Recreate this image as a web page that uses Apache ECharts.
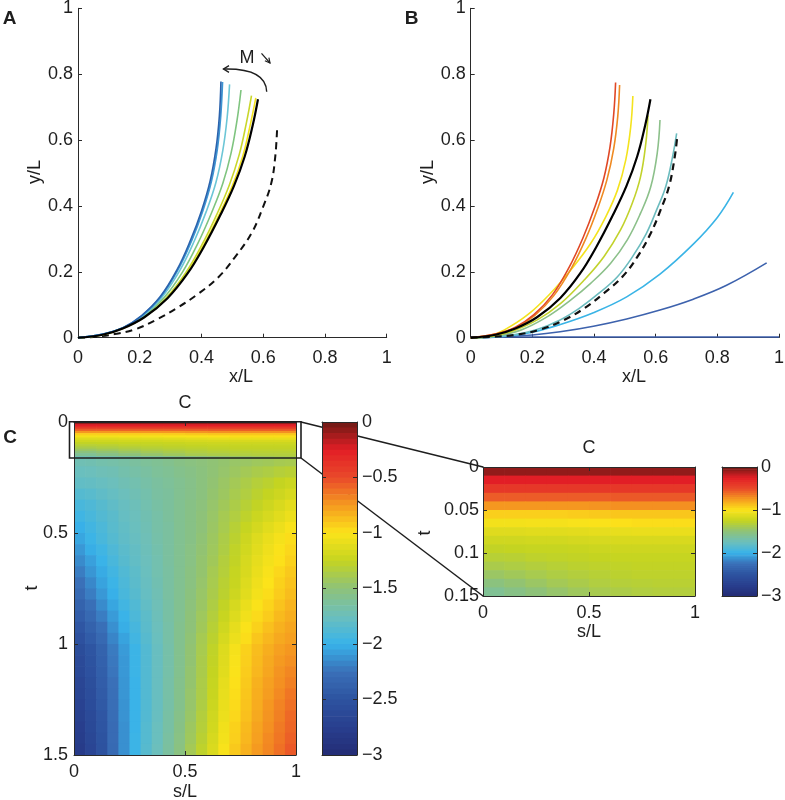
<!DOCTYPE html>
<html><head><meta charset="utf-8">
<script src="https://cdn.jsdelivr.net/npm/echarts@6/dist/echarts.min.js"></script>
<style>html,body{margin:0;padding:0;background:#fff}#c{width:785px;height:800px}</style>
</head><body><div id="c"></div>
<script>
// ---------- Panel A curves (x/L, y/L) ----------
const aDarkBlue = [[0,0],[0.082,0.011],[0.147,0.031],[0.206,0.067],[0.266,0.124],[0.32,0.205],[0.364,0.295],[0.4,0.385],[0.428,0.476],[0.447,0.574],[0.458,0.674],[0.463,0.778]];
const aBlue = [[0,0],[0.082,0.011],[0.148,0.031],[0.208,0.067],[0.268,0.124],[0.323,0.205],[0.368,0.295],[0.404,0.385],[0.432,0.475],[0.451,0.572],[0.462,0.672],[0.468,0.776]];
const aCyan = [[0,0],[0.082,0.011],[0.147,0.030],[0.209,0.066],[0.272,0.123],[0.329,0.203],[0.376,0.292],[0.415,0.382],[0.447,0.472],[0.469,0.568],[0.483,0.667],[0.491,0.769]];
const aGreen = [[0,0],[0.081,0.010],[0.147,0.030],[0.212,0.065],[0.279,0.122],[0.339,0.200],[0.389,0.288],[0.432,0.378],[0.469,0.468],[0.496,0.561],[0.515,0.659],[0.528,0.752]];
const aYellowGreen = [[0,0],[0.080,0.009],[0.146,0.029],[0.214,0.063],[0.286,0.121],[0.349,0.197],[0.402,0.283],[0.449,0.373],[0.490,0.463],[0.522,0.555],[0.545,0.650],[0.562,0.735]];
const aYellow = [[0,0],[0.080,0.009],[0.145,0.028],[0.215,0.062],[0.289,0.120],[0.353,0.196],[0.407,0.281],[0.456,0.371],[0.500,0.461],[0.534,0.552],[0.558,0.646],[0.576,0.728]];
const blackRef = [[0,0],[0.08,0.009],[0.145,0.028],[0.215,0.062],[0.29,0.12],[0.355,0.195],[0.41,0.28],[0.46,0.37],[0.505,0.46],[0.54,0.55],[0.566,0.645],[0.583,0.724]];
const aDashed = [[0,0],[0.06,0.003],[0.119,0.011],[0.184,0.025],[0.259,0.057],[0.324,0.092],[0.389,0.133],[0.454,0.183],[0.508,0.244],[0.562,0.317],[0.599,0.396],[0.626,0.469],[0.639,0.55],[0.645,0.634]];

// ---------- Panel B curves ----------
const bRed = [[0,0],[0.08,0.011],[0.145,0.032],[0.205,0.07],[0.265,0.13],[0.32,0.215],[0.365,0.305],[0.402,0.395],[0.432,0.485],[0.452,0.58],[0.464,0.68],[0.47,0.775]];
const bOrange = [[0,0],[0.08,0.011],[0.147,0.031],[0.208,0.068],[0.269,0.127],[0.326,0.21],[0.373,0.30],[0.411,0.39],[0.442,0.48],[0.464,0.575],[0.477,0.672],[0.483,0.767]];
const bYellow = [[0,0],[0.06,0.006],[0.108,0.023],[0.184,0.069],[0.259,0.135],[0.324,0.205],[0.389,0.286],[0.438,0.367],[0.476,0.448],[0.503,0.54],[0.519,0.64],[0.526,0.734]];
const bYellowGreen = [[0,0],[0.065,0.004],[0.13,0.018],[0.216,0.054],[0.292,0.104],[0.368,0.175],[0.432,0.246],[0.486,0.327],[0.524,0.408],[0.551,0.489],[0.568,0.59],[0.575,0.675]];
const bGreen = [[0,0],[0.07,0.004],[0.162,0.023],[0.249,0.064],[0.324,0.114],[0.389,0.165],[0.454,0.226],[0.508,0.297],[0.551,0.378],[0.584,0.458],[0.605,0.56],[0.614,0.661]];
const bTeal = [[0,0],[0.07,0.003],[0.135,0.008],[0.215,0.025],[0.29,0.054],[0.352,0.089],[0.416,0.135],[0.476,0.185],[0.525,0.246],[0.57,0.317],[0.603,0.388],[0.633,0.46],[0.655,0.55],[0.668,0.620]];
const bDashed = [[0,0],[0.07,0.003],[0.141,0.008],[0.227,0.025],[0.303,0.054],[0.368,0.089],[0.432,0.135],[0.492,0.185],[0.541,0.246],[0.584,0.317],[0.616,0.388],[0.643,0.458],[0.662,0.55],[0.670,0.612]];
const bLightBlue = [[0,0],[0.1,0.004],[0.2,0.017],[0.29,0.040],[0.398,0.076],[0.506,0.124],[0.614,0.193],[0.722,0.284],[0.80,0.365],[0.852,0.441]];
const bBlue = [[0,0],[0.1,0.002],[0.2,0.008],[0.29,0.018],[0.398,0.035],[0.506,0.057],[0.614,0.084],[0.722,0.117],[0.83,0.159],[0.96,0.227]];
const bFlat = [[0,0.002],[1,0.002]];

// ---------- Panel C: curvature field C(s,t) ----------
const zoomSEdges = [0,0.1,0.2,0.3,0.4,0.5,0.6,0.7,0.8,0.9,1];
const zoomTEdges = [0,0.01,0.02,0.03,0.04,0.05,0.06,0.07,0.08,0.09,0.1,0.11,0.12,0.13,0.14,0.15];
const zoomC = [
[-0.08,-0.08,-0.08,-0.08,-0.08,-0.08,-0.08,-0.08,-0.08,-0.08],
[-0.25,-0.25,-0.25,-0.25,-0.25,-0.25,-0.25,-0.25,-0.25,-0.25],
[-0.40,-0.40,-0.40,-0.40,-0.40,-0.40,-0.40,-0.40,-0.40,-0.40],
[-0.56,-0.56,-0.56,-0.56,-0.56,-0.56,-0.55,-0.55,-0.55,-0.55],
[-0.74,-0.74,-0.74,-0.74,-0.74,-0.73,-0.72,-0.72,-0.72,-0.72],
[-0.93,-0.93,-0.93,-0.93,-0.92,-0.91,-0.90,-0.90,-0.90,-0.90],
[-1.04,-1.04,-1.03,-1.03,-1.02,-1.01,-0.99,-0.98,-0.98,-0.98],
[-1.13,-1.13,-1.12,-1.12,-1.11,-1.10,-1.09,-1.08,-1.08,-1.08],
[-1.20,-1.20,-1.19,-1.19,-1.18,-1.17,-1.16,-1.16,-1.16,-1.16],
[-1.26,-1.25,-1.24,-1.24,-1.23,-1.22,-1.21,-1.21,-1.21,-1.21],
[-1.31,-1.30,-1.28,-1.27,-1.26,-1.25,-1.24,-1.24,-1.24,-1.24],
[-1.37,-1.35,-1.33,-1.31,-1.29,-1.28,-1.27,-1.26,-1.26,-1.26],
[-1.44,-1.41,-1.38,-1.35,-1.33,-1.31,-1.29,-1.28,-1.28,-1.28],
[-1.52,-1.48,-1.44,-1.40,-1.37,-1.34,-1.32,-1.31,-1.30,-1.30],
[-1.60,-1.55,-1.50,-1.46,-1.42,-1.38,-1.36,-1.34,-1.33,-1.33]
];
const mainSEdges = [0,0.05,0.1,0.15,0.2,0.25,0.3,0.35,0.4,0.45,0.5,0.55,0.6,0.65,0.7,0.75,0.8,0.85,0.9,0.95,1];
const mainTEdges = [0.15,0.2,0.25,0.3,0.35,0.4,0.45,0.5,0.55,0.6,0.65,0.7,0.75,0.8,0.85,0.9,0.95,1,1.05,1.1,1.15,1.2,1.25,1.3,1.35,1.4,1.45,1.5];
const mainC = [
[-1.72,-1.71,-1.69,-1.68,-1.66,-1.64,-1.62,-1.60,-1.58,-1.55,-1.53,-1.51,-1.49,-1.47,-1.45,-1.44,-1.42,-1.41,-1.39,-1.38],
[-1.76,-1.75,-1.73,-1.72,-1.69,-1.67,-1.65,-1.62,-1.60,-1.57,-1.55,-1.52,-1.49,-1.46,-1.43,-1.40,-1.37,-1.35,-1.32,-1.30],
[-1.80,-1.79,-1.77,-1.75,-1.72,-1.70,-1.67,-1.64,-1.62,-1.59,-1.56,-1.52,-1.48,-1.44,-1.40,-1.36,-1.32,-1.29,-1.25,-1.22],
[-1.86,-1.84,-1.81,-1.78,-1.75,-1.72,-1.69,-1.65,-1.63,-1.59,-1.56,-1.52,-1.47,-1.43,-1.38,-1.34,-1.29,-1.25,-1.21,-1.17],
[-1.92,-1.89,-1.85,-1.81,-1.77,-1.74,-1.70,-1.66,-1.63,-1.59,-1.55,-1.51,-1.46,-1.41,-1.36,-1.31,-1.26,-1.21,-1.16,-1.11],
[-1.96,-1.92,-1.87,-1.83,-1.78,-1.75,-1.71,-1.67,-1.63,-1.59,-1.55,-1.50,-1.45,-1.39,-1.34,-1.28,-1.22,-1.17,-1.12,-1.07],
[-2.01,-1.95,-1.90,-1.84,-1.80,-1.76,-1.72,-1.67,-1.64,-1.59,-1.55,-1.50,-1.44,-1.38,-1.31,-1.24,-1.18,-1.12,-1.07,-1.02],
[-2.05,-1.98,-1.92,-1.86,-1.81,-1.77,-1.73,-1.68,-1.64,-1.59,-1.55,-1.49,-1.43,-1.36,-1.29,-1.21,-1.14,-1.08,-1.03,-0.98],
[-2.10,-2.02,-1.96,-1.89,-1.83,-1.79,-1.74,-1.69,-1.64,-1.59,-1.54,-1.48,-1.42,-1.35,-1.27,-1.19,-1.12,-1.06,-1.01,-0.96],
[-2.15,-2.07,-1.99,-1.92,-1.85,-1.80,-1.75,-1.70,-1.64,-1.59,-1.54,-1.47,-1.41,-1.33,-1.26,-1.17,-1.10,-1.04,-0.99,-0.94],
[-2.20,-2.11,-2.03,-1.95,-1.88,-1.82,-1.76,-1.70,-1.65,-1.59,-1.53,-1.47,-1.39,-1.32,-1.24,-1.16,-1.08,-1.02,-0.96,-0.91],
[-2.25,-2.16,-2.06,-1.98,-1.90,-1.83,-1.77,-1.71,-1.65,-1.59,-1.53,-1.46,-1.38,-1.30,-1.23,-1.14,-1.06,-1.00,-0.94,-0.89],
[-2.30,-2.20,-2.10,-2.01,-1.92,-1.85,-1.78,-1.72,-1.65,-1.59,-1.52,-1.45,-1.37,-1.29,-1.21,-1.12,-1.04,-0.98,-0.92,-0.87],
[-2.36,-2.26,-2.15,-2.05,-1.95,-1.88,-1.80,-1.73,-1.66,-1.59,-1.51,-1.44,-1.35,-1.26,-1.17,-1.08,-1.01,-0.95,-0.89,-0.84],
[-2.41,-2.31,-2.20,-2.09,-1.99,-1.90,-1.82,-1.74,-1.66,-1.59,-1.50,-1.42,-1.33,-1.23,-1.14,-1.05,-0.97,-0.92,-0.86,-0.82],
[-2.47,-2.37,-2.26,-2.13,-2.02,-1.93,-1.83,-1.75,-1.67,-1.58,-1.50,-1.41,-1.31,-1.20,-1.10,-1.01,-0.94,-0.88,-0.83,-0.79],
[-2.52,-2.42,-2.31,-2.17,-2.06,-1.95,-1.85,-1.76,-1.67,-1.58,-1.49,-1.39,-1.29,-1.17,-1.07,-0.98,-0.90,-0.85,-0.80,-0.77],
[-2.58,-2.48,-2.36,-2.21,-2.09,-1.98,-1.87,-1.77,-1.68,-1.58,-1.48,-1.38,-1.27,-1.14,-1.03,-0.94,-0.87,-0.82,-0.77,-0.74],
[-2.61,-2.50,-2.38,-2.22,-2.10,-1.98,-1.87,-1.77,-1.68,-1.58,-1.48,-1.37,-1.26,-1.13,-1.02,-0.93,-0.86,-0.80,-0.75,-0.72],
[-2.63,-2.52,-2.40,-2.23,-2.10,-1.98,-1.87,-1.77,-1.68,-1.58,-1.47,-1.37,-1.25,-1.12,-1.01,-0.92,-0.85,-0.79,-0.73,-0.69],
[-2.66,-2.55,-2.41,-2.25,-2.11,-1.99,-1.87,-1.77,-1.67,-1.57,-1.47,-1.36,-1.24,-1.10,-0.99,-0.91,-0.83,-0.77,-0.72,-0.67],
[-2.68,-2.57,-2.43,-2.26,-2.11,-1.99,-1.87,-1.77,-1.67,-1.57,-1.46,-1.36,-1.23,-1.09,-0.98,-0.90,-0.82,-0.76,-0.70,-0.64],
[-2.71,-2.59,-2.45,-2.27,-2.12,-1.99,-1.87,-1.77,-1.67,-1.57,-1.46,-1.35,-1.22,-1.08,-0.97,-0.89,-0.81,-0.74,-0.68,-0.62],
[-2.73,-2.61,-2.47,-2.28,-2.12,-1.99,-1.87,-1.77,-1.66,-1.56,-1.45,-1.33,-1.20,-1.07,-0.96,-0.88,-0.80,-0.73,-0.67,-0.60],
[-2.76,-2.63,-2.48,-2.29,-2.13,-1.99,-1.86,-1.76,-1.66,-1.55,-1.43,-1.32,-1.19,-1.05,-0.94,-0.86,-0.78,-0.72,-0.65,-0.59],
[-2.78,-2.65,-2.50,-2.29,-2.13,-1.98,-1.86,-1.76,-1.65,-1.54,-1.42,-1.30,-1.17,-1.04,-0.93,-0.85,-0.77,-0.70,-0.64,-0.57],
[-2.80,-2.67,-2.51,-2.30,-2.13,-1.98,-1.85,-1.75,-1.64,-1.53,-1.40,-1.28,-1.15,-1.02,-0.91,-0.83,-0.75,-0.69,-0.62,-0.55]
];
const cbarEdges = [0,-0.05,-0.1,-0.15,-0.2,-0.25,-0.3,-0.35,-0.4,-0.45,-0.5,-0.55,-0.6,-0.65,-0.7,-0.75,-0.8,-0.85,-0.9,-0.95,-1,-1.05,-1.1,-1.15,-1.2,-1.25,-1.3,-1.35,-1.4,-1.45,-1.5,-1.55,-1.6,-1.65,-1.7,-1.75,-1.8,-1.85,-1.9,-1.95,-2,-2.05,-2.1,-2.15,-2.2,-2.25,-2.3,-2.35,-2.4,-2.45,-2.5,-2.55,-2.6,-2.65,-2.7,-2.75,-2.8,-2.85,-2.9,-2.95,-3];
const cmapColors = ['#232c75','#283f8e','#2d53a0','#3a70b8','#38b3ea','#6cbfbc','#8ec279','#c4d421','#fce31a','#f59a20','#e9492a','#e21e26','#6c1a14'];

// ---------- helpers ----------
const FONT = 'Liberation Sans, Arial, Helvetica, sans-serif';
const AX = '#2a2a2a';
const fmt = v => { const n = +(+v).toFixed(3); return (n < 0 ? '\u2212' : '') + String(Math.abs(n)); };

function axis(o) {
  const lab = Object.assign({show:true, fontFamily:FONT, fontSize:18, color:'#1e1e1e', formatter:fmt, margin:6, hideOverlap:false}, o.label || {});
  return {
    type:'value', gridIndex:o.grid, min:o.min, max:o.max, interval:o.interval, position:o.position,
    inverse: !!o.inverse, z: o.z || 3, show: o.show !== false,
    splitLine:{show:false},
    axisLine:{show:true, onZero:false, lineStyle:{color:AX, width:1}},
    axisTick:{show: o.ticks !== false, inside:true, length:4, lineStyle:{color:AX, width:1}},
    axisLabel: lab
  };
}
function cells(sE, tE, grid) {
  const out = [];
  for (let i = 0; i < grid.length; i++)
    for (let j = 0; j < grid[i].length; j++)
      out.push([sE[j], sE[j+1], tE[i], tE[i+1], grid[i][j]]);
  return out;
}
function renderCell(params, api) {
  const a = api.coord([api.value(0), api.value(2)]);
  const b = api.coord([api.value(1), api.value(3)]);
  return {type:'rect', shape:{x:Math.min(a[0],b[0]), y:Math.min(a[1],b[1]), width:Math.abs(b[0]-a[0])+0.7, height:Math.abs(b[1]-a[1])+0.7},
          style:{fill:api.visual('color')}};
}
function heat(data, xi, yi) {
  return {type:'custom', xAxisIndex:xi, yAxisIndex:yi, data:data, renderItem:renderCell, clip:true,
          encode:{x:[0,1], y:[2,3]}, silent:true, z:2};
}

// ---------- grids ----------
const grids = [
  {left:78, top:8.3, width:308.7, height:329.4},      // A
  {left:470.7, top:8.3, width:308.3, height:329.4},   // B
  {left:74, top:422, width:222, height:333},          // C main
  {left:322, top:422, width:35, height:333},          // C main colorbar
  {left:483, top:467, width:212, height:129},         // C inset
  {left:722, top:467, width:35, height:129}           // C inset colorbar
].map(g => Object.assign({outerBoundsMode:'none', containLabel:false}, g));

const xAxes = [
  axis({grid:0, min:0, max:1, interval:0.2, label:{margin:11}}),
  axis({grid:1, min:0, max:1, interval:0.2, label:{margin:11}}),
  axis({grid:2, min:0, max:1, interval:0.5, z:6, label:{margin:8}}),
  axis({grid:2, min:0, max:1, interval:0.5, z:6, position:'top', label:{show:false}}),
  axis({grid:3, min:0, max:1, interval:1, z:6, ticks:false, label:{show:false}}),
  axis({grid:3, min:0, max:1, interval:1, z:6, ticks:false, position:'top', label:{show:false}}),
  axis({grid:4, min:0, max:1, interval:0.5, z:6, label:{margin:8}}),
  axis({grid:4, min:0, max:1, interval:0.5, z:6, position:'top', label:{show:false}}),
  axis({grid:5, min:0, max:1, interval:1, z:6, ticks:false, label:{show:false}}),
  axis({grid:5, min:0, max:1, interval:1, z:6, ticks:false, position:'top', label:{show:false}})
];
const yAxes = [
  axis({grid:0, min:0, max:1, interval:0.2, label:{margin:5}}),
  axis({grid:1, min:0, max:1, interval:0.2, label:{margin:5}}),
  axis({grid:2, min:0, max:1.5, interval:0.5, inverse:true, z:6, label:{margin:6}}),
  axis({grid:2, min:0, max:1.5, interval:0.5, inverse:true, z:6, position:'right', label:{show:false}}),
  axis({grid:3, min:-3, max:0, interval:0.5, z:6, label:{show:false}}),
  axis({grid:3, min:-3, max:0, interval:0.5, z:6, position:'right', label:{margin:5}}),
  axis({grid:4, min:0, max:0.15, interval:0.05, inverse:true, z:6, label:{margin:4}}),
  axis({grid:4, min:0, max:0.15, interval:0.05, inverse:true, z:6, position:'right', label:{show:false}}),
  axis({grid:5, min:-3, max:0, interval:1, z:6, label:{show:false}}),
  axis({grid:5, min:-3, max:0, interval:1, z:6, position:'right', label:{margin:4}})
];

// ---------- series ----------
const series = [];
function line(data, color, width, idx, dashed, z) {
  series.push({type:'line', xAxisIndex:idx, yAxisIndex:idx, data:data, smooth:0.4, symbol:'none', showSymbol:false,
    lineStyle:{color:color, width:width, type: dashed ? [7,5] : 'solid', cap:'butt'}, z:z || 3, silent:true, clip:false});
}
// Panel A
line(aDashed, '#111111', 2, 0, true);
line(aYellow, '#f3e21c', 1.6, 0);
line(aYellowGreen, '#c9d62c', 1.6, 0);
line(aGreen, '#7fc47f', 1.6, 0);
line(aCyan, '#6cc6d6', 1.6, 0);
line(aBlue, '#3d95d3', 1.8, 0);
line(aDarkBlue, '#2b63ad', 1.6, 0);
line(blackRef, '#000000', 2.2, 0, false, 4);
// Panel B
line(bFlat, '#3d5fae', 1.6, 1);
line(bBlue, '#3d62ad', 1.6, 1);
line(bLightBlue, '#3ab4e6', 1.6, 1);
line(bTeal, '#6cbcbf', 1.6, 1);
line(bDashed, '#111111', 2.2, 1, true, 4);
line(bGreen, '#8cc08a', 1.6, 1);
line(bYellowGreen, '#c2d22c', 1.6, 1);
line(bYellow, '#f4e31e', 1.6, 1);
line(bOrange, '#ef8a22', 1.6, 1);
line(bRed, '#e04826', 1.6, 1);
line(blackRef, '#000000', 2.2, 1, false, 4);

const heatIdx = [];
function addHeat(s) { series.push(s); heatIdx.push(series.length - 1); }
addHeat(heat(cells(mainSEdges, mainTEdges, mainC), 2, 2));
addHeat(heat(cells(zoomSEdges, zoomTEdges, zoomC), 2, 2));
addHeat(heat(cells(zoomSEdges, zoomTEdges, zoomC), 6, 6));
const cbarData = [];
for (let i = 0; i < cbarEdges.length - 1; i++) cbarData.push([0, 1, cbarEdges[i+1], cbarEdges[i], (cbarEdges[i] + cbarEdges[i+1]) / 2]);
addHeat(heat(cbarData, 4, 5));
addHeat(heat(cbarData, 8, 9));

// ---------- annotations ----------
const T = (text, x, y, o) => Object.assign({type:'text', x:x, y:y, z:20,
  style:Object.assign({text:text, fontFamily:FONT, fontSize:18, fill:'#1e1e1e', align:'center', verticalAlign:'middle'}, (o && o.style) || {})},
  o && o.rotation ? {rotation:o.rotation} : {});
const R90 = Math.PI / 2;
const graphic = [
  T('A', 9.5, 18.5, {style:{fontWeight:'bold', fontSize:19}}),
  T('B', 411.5, 18.5, {style:{fontWeight:'bold', fontSize:19}}),
  T('C', 10, 438, {style:{fontWeight:'bold', fontSize:19}}),
  T('y/L', 35, 172, {rotation:R90}),
  T('x/L', 241, 377),
  T('y/L', 428, 172, {rotation:R90}),
  T('x/L', 634, 377),
  T('C', 185, 403),
  T('t', 32, 588, {rotation:R90}),
  T('s/L', 185, 792),
  T('C', 589, 448),
  T('t', 425, 533, {rotation:R90}),
  T('s/L', 589, 632),
  T('M', 247, 58.5),
  {type:'bezierCurve', z:20, shape:{x1:266.7, y1:91.7, cpx1:266, cpy1:68, x2:223.5, y2:69}, style:{stroke:'#1e1e1e', lineWidth:1.4, fill:null}},
  {type:'polyline', z:20, shape:{points:[[229,65.6],[223.5,69],[229,72.4]]}, style:{stroke:'#1e1e1e', lineWidth:1.4, fill:null}},
  {type:'line', z:20, shape:{x1:261.5, y1:53.3, x2:270, y2:63}, style:{stroke:'#1e1e1e', lineWidth:1.2}},
  {type:'polyline', z:20, shape:{points:[[268.9,57.6],[270,63],[264.9,60.8]]}, style:{stroke:'#1e1e1e', lineWidth:1.2, fill:null}},
  {type:'line', z:1, shape:{x1:301, y1:422, x2:483, y2:467}, style:{stroke:'#1e1e1e', lineWidth:1.5}},
  {type:'line', z:1, shape:{x1:301, y1:458, x2:483, y2:596}, style:{stroke:'#1e1e1e', lineWidth:1.5}},
  {type:'rect', z:50, shape:{x:69.5, y:421.8, width:231.5, height:36.2}, style:{fill:null, stroke:'#1e1e1e', lineWidth:1.6}}
];

const chart = echarts.init(document.getElementById('c'), null, {renderer:'canvas'});
chart.setOption({
  animation:false,
  backgroundColor:'#ffffff',
  textStyle:{fontFamily:FONT},
  grid:grids,
  xAxis:xAxes,
  yAxis:yAxes,
  visualMap:{type:'continuous', show:false, min:-3, max:0, dimension:4, seriesIndex:heatIdx, inRange:{color:cmapColors}},
  series:series,
  graphic:graphic
});
</script></body></html>
